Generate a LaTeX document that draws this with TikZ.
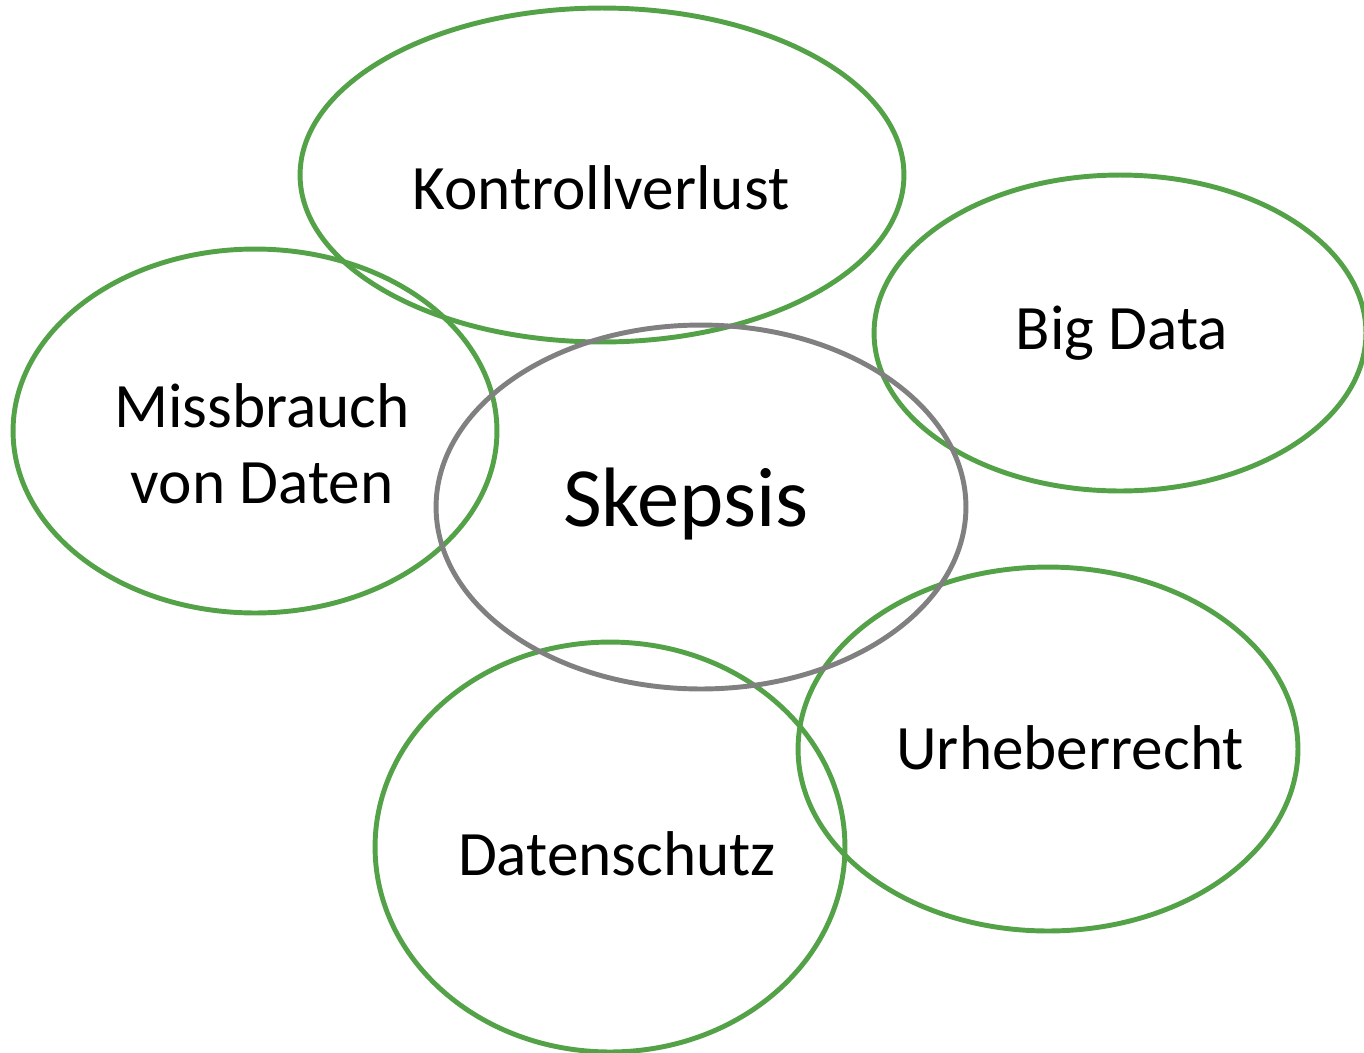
\documentclass[tikz,border=0pt]{standalone}
\usepackage{fontspec}
\setmainfont{Carlito}
\usetikzlibrary{shapes.geometric}

\definecolor{leafgreen}{RGB}{84,162,72}
\definecolor{midgray}{RGB}{128,128,128}

\tikzstyle{topic}=[ellipse, draw=leafgreen, line width=2.8pt, inner sep=0pt]
\tikzstyle{core}=[ellipse, draw=midgray, line width=2.8pt, inner sep=0pt]
\tikzstyle{word}=[font=\fontsize{36}{43}\selectfont, align=center]

\begin{document}
\begin{tikzpicture}[x=0.02cm, y=-0.02cm]
        \clip (0,0) rectangle (1364,1052);
        \fill[white] (0,0) rectangle (1364,1052);

        \node[topic, minimum width=12.08cm, minimum height=6.68cm] (kontrolle) at (602,175) {};
        \node[topic, minimum width=9.84cm, minimum height=6.32cm] (bigdata) at (1120,333) {};
        \node[topic, minimum width=9.68cm, minimum height=7.28cm] (missbrauch) at (255,431) {};
        \node[topic, minimum width=10.0cm, minimum height=7.28cm] (urheber) at (1048,749) {};
        \node[topic, minimum width=9.4cm, minimum height=8.2cm] (datenschutz) at (610,847) {};
        \node[core, minimum width=10.6cm, minimum height=7.28cm] (skepsis) at (701,507) {};

	\node[word] (t1) at (601,188) {Kontrollverlust};
	\node[word] (t2) at (1122,333) {Big Data};
	\node[word] (t3) at (262,444) {Missbrauch\\von Daten};
	\node[word] (t4) at (1070,748) {Urheberrecht};
	\node[word] (t5) at (617,854) {Datenschutz};
	\node[word, font=\fontsize{48}{52}\selectfont] (t6) at (686,504) {Skepsis};

      \end{tikzpicture}
\end{document}
